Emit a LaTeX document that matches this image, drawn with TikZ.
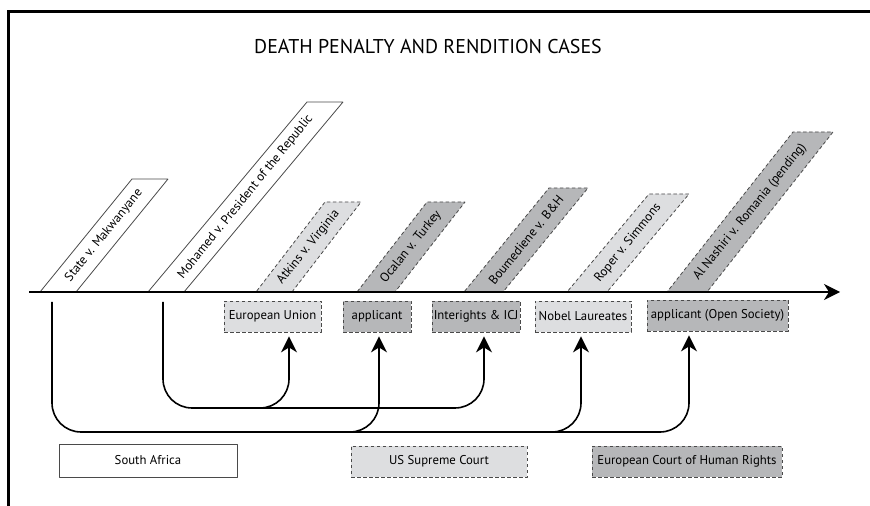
\documentclass[tikz,border=0pt]{standalone}
\usepackage{fontspec}
\setmainfont{PT Sans}
\usetikzlibrary{arrows.meta}
\definecolor{lightcase}{HTML}{DDDEE0}
\definecolor{darkcase}{HTML}{B6B7B9}
\definecolor{edgegray}{HTML}{4A4A4A}

\begin{document}
\begin{tikzpicture}[>={Stealth[length=16bp,width=16bp,inset=5bp]},line join=bevel,
  plainfill/.style={draw=edgegray,line width=0.8bp,fill=white},
  lightfill/.style={draw=edgegray,line width=0.8bp,fill=lightcase,dash pattern=on 3.5bp off 2.5bp},
  darkfill/.style={draw=edgegray,line width=0.8bp,fill=darkcase,dash pattern=on 3.5bp off 2.5bp},
  boxtext/.style={inner sep=0pt,minimum height=31bp,font=\fontsize{12.8}{15}\selectfont},
  slant/.style={rotate=51,inner sep=0pt,font=\fontsize{12.8}{15}\selectfont},
  wire/.style={black,line width=1.6bp,rounded corners=29bp,shorten >=4bp}]
\useasboundingbox (0bp,0bp) rectangle (870bp,506bp);
\fill [white] (0bp,0bp) rectangle (870bp,506bp);
%%
\draw [line width=3bp,line join=miter] (8.5bp,-5bp) -- (8.5bp,494.5bp) -- (875bp,494.5bp);
\node (title) at (428bp,459bp) [font=\fontsize{20}{24}\selectfont] {DEATH PENALTY AND RENDITION CASES};
%% cases
\draw [plainfill] (40bp,214bp) -- (76bp,214bp) -- (168bp,327bp) -- (132bp,327bp) -- cycle;
  \node (case_sa) at (104bp,270.5bp) [slant] {State v. Makwanyane};
\draw [plainfill] (148bp,214bp) -- (184bp,214bp) -- (343bp,404bp) -- (307bp,404bp) -- cycle;
  \node (case_mo) at (245.5bp,309bp) [slant] {Mohamed v. President of the Republic};
\draw [lightfill] (256bp,214bp) -- (292bp,214bp) -- (361bp,304bp) -- (325bp,304bp) -- cycle;
  \node (case_at) at (308.5bp,259bp) [slant] {Atkins v. Virginia};
\draw [darkfill] (357bp,214bp) -- (395bp,214bp) -- (465bp,304bp) -- (427bp,304bp) -- cycle;
  \node (case_oc) at (411bp,259bp) [slant] {Ocalan v. Turkey};
\draw [darkfill] (464bp,214bp) -- (503bp,214bp) -- (588bp,318bp) -- (549bp,318bp) -- cycle;
  \node (case_bo) at (526bp,266bp) [slant] {Boumediene v. B\&H};
\draw [lightfill] (567bp,214bp) -- (607bp,214bp) -- (689bp,312bp) -- (649bp,312bp) -- cycle;
  \node (case_ro) at (628bp,263bp) [slant] {Roper v. Simmons};
\draw [darkfill] (667bp,214bp) -- (707bp,214bp) -- (833bp,374bp) -- (793bp,374bp) -- cycle;
  \node (case_an) at (750bp,294bp) [slant] {Al Nashiri v. Romania (pending)};
%% time line
\coordinate (axis_start) at (29bp,214bp);
\coordinate (axis_end) at (840bp,214bp);
\draw [black,line width=1.6bp,->] (axis_start) -- (axis_end);
%% parties
\node (box_eu) at (272.5bp,189.5bp) [lightfill,boxtext,minimum width=97bp] {European Union};
\node (box_app) at (377bp,189.5bp) [darkfill,boxtext,minimum width=68bp] {applicant};
\node (box_ij) at (476bp,189.5bp) [darkfill,boxtext,minimum width=88bp] {Interights \& ICJ};
\node (box_nl) at (583bp,189.5bp) [lightfill,boxtext,minimum width=96bp] {Nobel Laureates};
\node (box_os) at (717.5bp,190.5bp) [darkfill,boxtext,minimum width=141bp] {applicant (Open Society)};
%% courts
\node (court_sa) at (148bp,45.5bp) [plainfill,boxtext,minimum width=178bp,minimum height=33bp] {South Africa};
\node (court_us) at (439bp,44.5bp) [lightfill,boxtext,minimum width=176bp] {US Supreme Court};
\node (court_eu) at (687bp,44.5bp) [darkfill,boxtext,minimum width=190bp] {European Court of Human Rights};
%% links
\coordinate (foot_sa) at (52bp,204bp);
\coordinate (rail_sa) at (52bp,74bp);
\coordinate (foot_mo) at (163bp,204bp);
\coordinate (rail_mo) at (163bp,98bp);
\coordinate (drop_eu) at (289bp,98bp);
\coordinate (drop_app) at (379bp,74bp);
\coordinate (drop_ij) at (484bp,98bp);
\coordinate (drop_nl) at (581bp,74bp);
\coordinate (drop_os) at (689bp,74bp);
\coordinate (fork_eu) at (259bp,98bp);
\coordinate (fork_app) at (349bp,74bp);
\coordinate (fork_nl) at (551bp,74bp);
\draw [wire,->] (foot_sa) -- (rail_sa) -- (drop_os) -- (drop_os |- box_os.south);
\draw [wire,->] (foot_mo) -- (rail_mo) -- (drop_ij) -- (drop_ij |- box_ij.south);
\draw [wire,->] (fork_eu) -- (drop_eu) -- (drop_eu |- box_eu.south);
\draw [wire,->] (fork_app) -- (drop_app) -- (drop_app |- box_app.south);
\draw [wire,->] (fork_nl) -- (drop_nl) -- (drop_nl |- box_nl.south);
%
\end{tikzpicture}
\end{document}
